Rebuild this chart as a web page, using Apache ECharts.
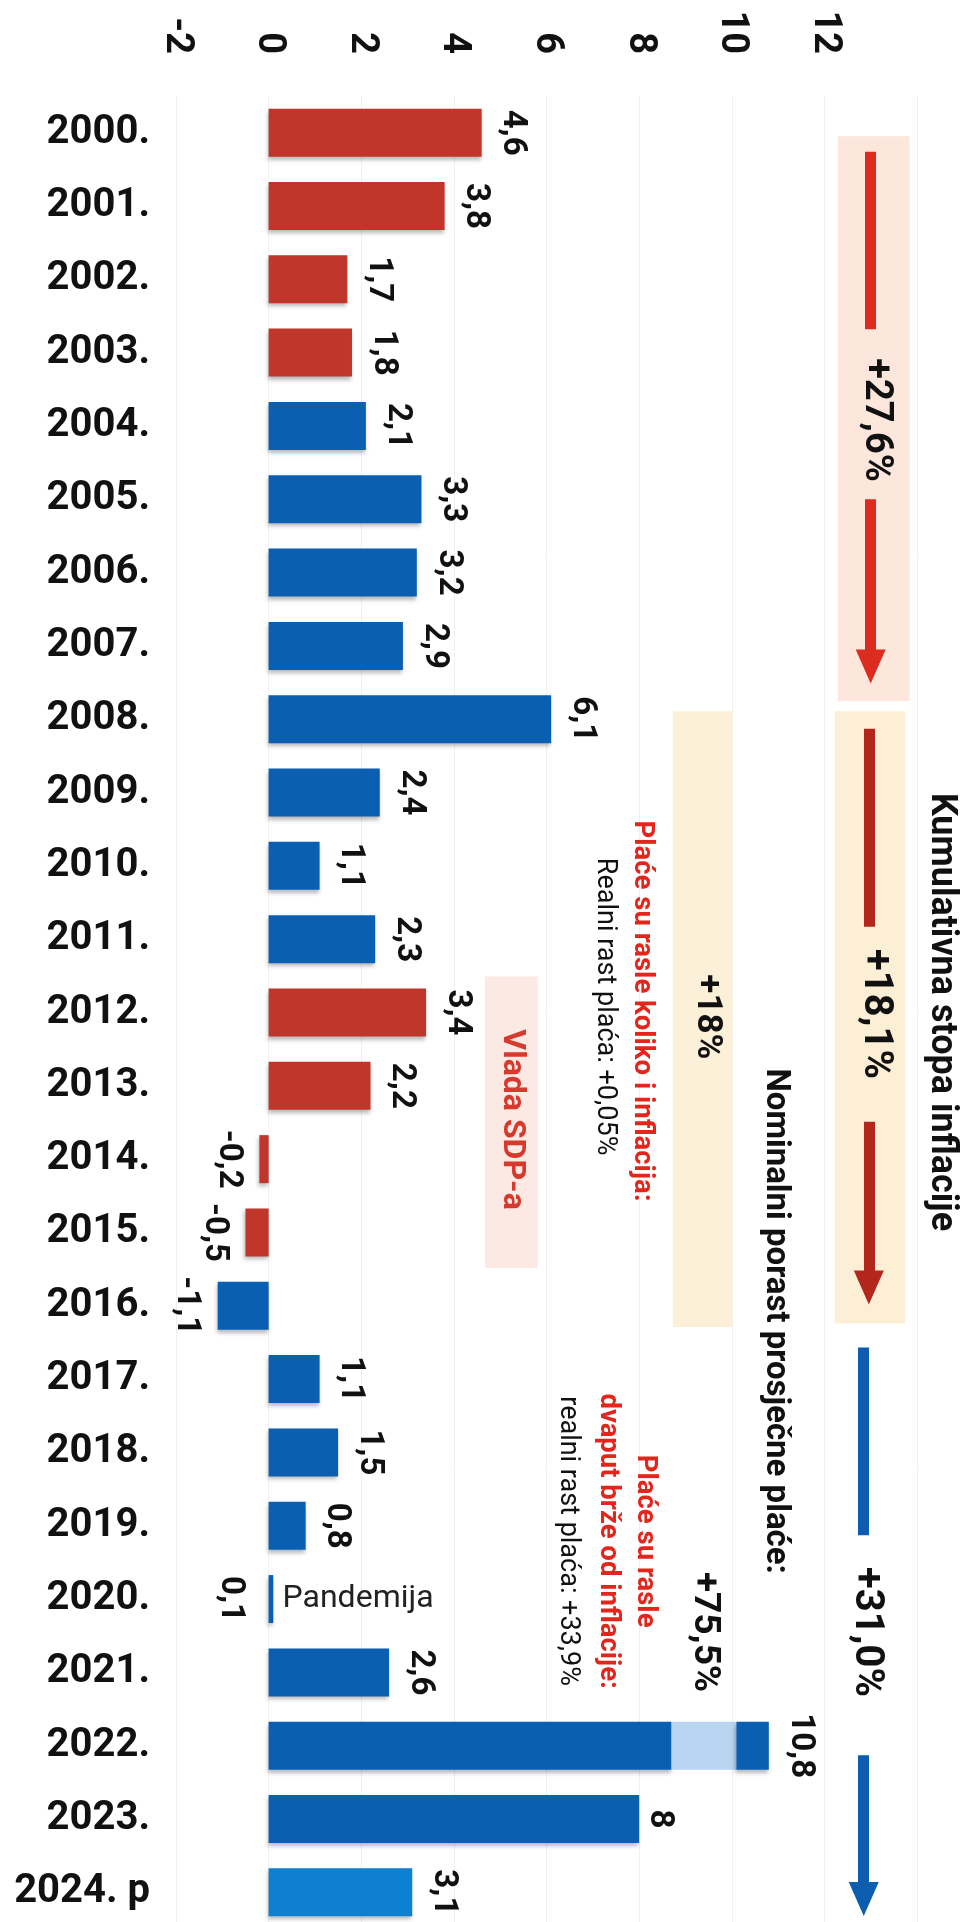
<!DOCTYPE html>
<html><head><meta charset="utf-8">
<script src="https://cdn.jsdelivr.net/npm/echarts@6/dist/echarts.min.js"></script>
<style>html,body{margin:0;padding:0;background:#fff}#c{width:963px;height:1922px}</style>
</head><body><div id="c"></div>
<script>
// ---- data ----
const categories = ['2000.','2001.','2002.','2003.','2004.','2005.','2006.','2007.','2008.','2009.','2010.','2011.','2012.','2013.','2014.','2015.','2016.','2017.','2018.','2019.','2020.','2021.','2022.','2023.','2024. p'];
const inflation = [4.6,3.8,1.7,1.8,2.1,3.3,3.2,2.9,6.1,2.4,1.1,2.3,3.4,2.2,-0.2,-0.5,-1.1,1.1,1.5,0.8,0.1,2.6,10.8,8,3.1];
const government = ['sdp','sdp','sdp','sdp','hdz','hdz','hdz','hdz','hdz','hdz','hdz','hdz','sdp','sdp','sdp','sdp','hdz','hdz','hdz','hdz','hdz','hdz','hdz','hdz','proj'];
const highlightYear = '2022.';
const highlightRange = [8.7, 10.1];
const noteYear = '2020.';
const noteText = 'Pandemija';

// ---- styling ----
const COLORS = {sdp:'#c0362b', hdz:'#0b5fb3', proj:'#0d80d2', light:'#b9d5f1'};
const labelDistanceOverride = {'2020.': 38, '2023.': 20};
const fmt = v => String(v).replace('.', ',');
const hi = categories.indexOf(highlightYear);
const ni = categories.indexOf(noteYear);
const shadow = {shadowColor:'rgba(0,0,0,0.28)', shadowBlur:4, shadowOffsetX:-1, shadowOffsetY:3};

const mainData = inflation.map((v, i) => {
  const item = {value: i === hi ? highlightRange[0] : v, itemStyle: Object.assign({color: COLORS[government[i]]}, shadow)};
  if (i === hi) item.label = {show: false};
  else if (i === ni) item.label = {position: 'left', distance: labelDistanceOverride[categories[i]]};
  else if (labelDistanceOverride[categories[i]] != null) item.label = {distance: labelDistanceOverride[categories[i]]};
  return item;
});
const lightData = categories.map((c, i) => i === hi ? +(highlightRange[1] - highlightRange[0]).toFixed(2) : '-');
const topData = categories.map((c, i) => i === hi ? {value: +(inflation[i] - highlightRange[1]).toFixed(2), itemStyle: Object.assign({color: COLORS[government[i]]}, shadow)} : '-');

const valLabel = {
  show: true, position: 'outside', distance: 31, rotate: -90, align: 'center', verticalAlign: 'middle',
  fontSize: 33, fontWeight: 'bold', color: '#111', fontFamily: 'Roboto',
  formatter: p => fmt(inflation[p.dataIndex])
};

// annotation helpers (data coordinates: x = value axis, y = row index)
const box = (x1, x2, y1, y2, color) => [{coord: [x1, y1], itemStyle: {color}}, {coord: [x2, y2]}];
const seg = (x, y1, y2, color, arrow) => [
  {coord: [x, y1], symbol: 'none', lineStyle: {color, width: 11, type: 'solid'}},
  {coord: [x, y2], symbol: arrow ? 'triangle' : 'none', symbolSize: [30, 34]}
];
const txt = (t, x, y, size, weight, color, rot) => ({
  coord: [x, y], symbol: 'circle', symbolSize: 0, itemStyle: {color: 'transparent'},
  label: {show: true, position: 'inside', formatter: t, rotate: rot === undefined ? -90 : rot,
    align: rot === 0 ? 'left' : 'center', verticalAlign: 'middle',
    fontSize: size, fontWeight: weight, color: color, fontFamily: 'Roboto'}
});
const RED = '#e3261b', DARK = '#111';

const chart = echarts.init(document.getElementById('c'), null, {renderer: 'canvas'});
chart.setOption({
  animation: false,
  backgroundColor: '#fff',
  textStyle: {fontFamily: 'Roboto'},
  grid: {left: 176, right: 46, top: 96, bottom: -7, outerBoundsMode: 'none', containLabel: false},
  xAxis: {
    type: 'value', position: 'top', min: -2, max: 14, interval: 2,
    axisLine: {show: false}, axisTick: {show: false},
    splitLine: {show: true, lineStyle: {color: '#f0f0f0', width: 1}},
    axisLabel: {rotate: -90, fontSize: 38, fontWeight: 'bold', color: '#111', margin: 42,
      formatter: v => v > 12 ? '' : String(v)}
  },
  yAxis: [
    {type: 'category', data: categories, inverse: true, position: 'left',
      axisLine: {show: false, onZero: false}, axisTick: {show: false}, splitLine: {show: false},
      axisLabel: {fontSize: 40, fontWeight: 'bold', color: '#111', margin: 26}},
    {type: 'value', min: -0.5, max: 24.5, inverse: true, show: false}
  ],
  graphic: [{
    type: 'text', x: 941, y: 1012, rotation: -Math.PI / 2, silent: true,
    style: {text: 'Kumulativna stopa inflacije', fill: '#111', font: 'bold 36px Roboto', align: 'center', verticalAlign: 'middle'}
  }],
  series: [
    {type: 'bar', name: 'inflacija', stack: 'a', barWidth: 48, data: mainData, label: valLabel, silent: true, z: 3},
    {type: 'bar', name: 'svijetlo', stack: 'a', barWidth: 48, data: lightData, itemStyle: {color: COLORS.light}, silent: true, z: 3},
    {type: 'bar', name: 'vrh', stack: 'a', barWidth: 48, data: topData,
      label: Object.assign({}, valLabel, {formatter: p => fmt(inflation[p.dataIndex])}), silent: true, z: 3},
    {type: 'scatter', name: 'anotacije', xAxisIndex: 0, yAxisIndex: 1, data: [], silent: true, clip: false, z: 1,
      markArea: {silent: true, z: 1, data: [
        box(12.29, 13.84, 0.05, 7.75, '#fde6dc'),
        box(12.22, 13.74, 7.89, 16.24, '#fdefd6'),
        box(8.73, 10.02, 7.89, 16.29, '#fdf0d8'),
        box(4.67, 5.81, 11.51, 15.48, '#fce9e3')
      ]},
      markLine: {silent: true, z: 4, symbol: ['none', 'none'], label: {show: false}, emphasis: {disabled: true}, data: [
        seg(13.0, 0.26, 2.68, '#dc2b1f', false),
        seg(13.0, 5.0, 7.28, '#dc2b1f', true),
        seg(12.96, 8.13, 10.83, '#b3261c', false),
        seg(12.96, 13.49, 15.75, '#b3261c', true),
        seg(12.85, 16.57, 19.13, '#0b5db0', false),
        seg(12.85, 22.13, 24.09, '#0b5db0', true)
      ]},
      markPoint: {silent: true, z: 5, data: [
        txt('+27,6%', 13.1, 3.92, 38, 'bold', DARK),
        txt('+18,1%', 13.1, 12.02, 40, 'bold', DARK),
        txt('+31,0%', 12.9, 20.45, 40, 'bold', DARK),
        txt('+18%', 9.46, 12.06, 35, 'bold', DARK),
        txt('+75,5%', 9.4, 20.45, 37, 'bold', DARK),
        txt('Nominalni porast prosječne plaće:', 10.95, 16.21, 33, 'bold', DARK),
        txt('Plaće su rasle koliko i inflacija:', 8.06, 11.98, 27.5, 'bold', RED),
        txt('Realni rast plaća: +0,05%', 7.26, 11.92, 27, 'normal', DARK),
        txt('Plaće su rasle', 8.12, 19.21, 27.5, 'bold', RED),
        txt('dvaput brže od inflacije:', 7.32, 19.21, 27.5, 'bold', RED),
        txt('realni rast plaća: +33,9%', 6.46, 19.21, 27, 'normal', DARK),
        txt('Vlada SDP-a', 5.25, 13.46, 32, 'bold', '#d63a2e'),
        txt(noteText, inflation[ni] + 0.2, ni, 32, 'normal', '#222', 0)
      ]}
    }
  ]
});
</script></body></html>
